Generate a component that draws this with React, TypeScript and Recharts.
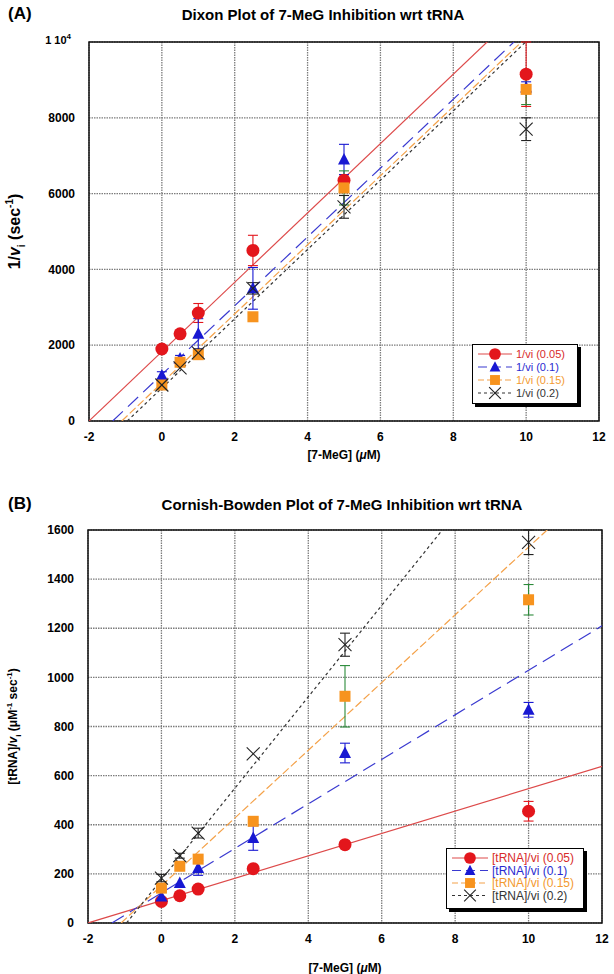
import React from 'react';
import {
  ComposedChart,
  Line,
  Scatter,
  XAxis,
  YAxis,
  CartesianGrid,
  ErrorBar,
  ReferenceArea,
} from 'recharts';

// ── shared x values ([7-MeG] in µM) ──
const conc = [0, 0.5, 1, 2.5, 5, 10];
const xTicks = [-2, 0, 2, 4, 6, 8, 10, 12];

// ── (A) Dixon plot: 1/vi ──
const dixon005 = [1900, 2300, 2850, 4500, 6350, 9150];
const dixon005Err = [0, 0, 250, 400, 150, 850];
const dixon01 = [1200, 1650, 2300, 3500, 6900, 8800];
const dixon01Err = [100, 80, 400, 550, 400, 150];
const dixon015 = [950, 1550, 1750, 2750, 6150, 8750];
const dixon015Err = [0, 0, 0, 0, 450, 400];
const dixon02 = [950, 1400, 1800, 3500, 5650, 7700];
const dixon02Err = [0, 0, 100, 150, 300, 300];
// fitted lines: start (x at y=0) and value at x=12
const dixonFitX0 = [-2, -1.35, -1.1, -0.95];
const dixonFitEnd = [12810, 12120, 11940, 11840];
const dixonYTicks = [0, 2000, 4000, 6000, 8000, 10000];

// ── (B) Cornish-Bowden plot: [tRNA]/vi ──
const cb005 = [88, 111, 138, 221, 319, 455];
const cb005Err = [0, 0, 0, 0, 0, 40];
const cb01 = [108, 163, 224, 346, 692, 868];
const cb01Err = [0, 0, 30, 50, 40, 30];
const cb015 = [142, 231, 260, 414, 923, 1316];
const cb015Err = [0, 0, 0, 0, 125, 62];
const cb02 = [183, 274, 366, 689, 1133, 1550];
const cb02Err = [15, 10, 20, 0, 47, 50];
const cbFitX0 = [-2, -1.35, -1.1, -0.95];
const cbFitEnd = [638, 1210, 1806, 2409];
const cbYTicks = [0, 200, 400, 600, 800, 1000, 1200, 1400, 1600];

const FONT = '"Liberation Sans", Arial, Helvetica, sans-serif';

const RED = '#e3161c';
const BLUE = '#1818d2';
const ORANGE = '#f7931e';
const BLACK = '#222222';
const GREEN = '#2b8a3a';

const series = [
  { key: 'r', color: RED, line: '#dd4a4a', dash: undefined, errColor: RED, text: '#d82a2a', label: '(0.05)' },
  { key: 'b', color: BLUE, line: '#3a3ad0', dash: '14 7', errColor: BLUE, text: '#2a2ad0', label: '(0.1)' },
  { key: 'o', color: ORANGE, line: '#f4a24a', dash: '8 3', errColor: GREEN, text: '#f39a30', label: '(0.15)' },
  { key: 'k', color: BLACK, line: '#333333', dash: '3 3', errColor: BLACK, text: '#333333', label: '(0.2)' },
];

const toPoints = (vals: number[], errs: number[]) =>
  conc.map((x, i) => ({ x, y: vals[i], err: errs[i] }));

const toFit = (x0: number, yEnd: number) => [
  { x: x0, y: 0 },
  { x: 12, y: yEnd },
];

// ══════════════════════════════════════════════════════════════════
// MARKERS
// ══════════════════════════════════════════════════════════════════

function Marker({ kind, cx, cy, s = 1 }: { kind: string; cx: number; cy: number; s?: number }) {
  if (kind === 'r') return <circle cx={cx} cy={cy} r={6.5 * s} fill={RED} />;
  if (kind === 'b')
    return (
      <polygon
        points={`${cx},${cy - 6.5 * s} ${cx - 6 * s},${cy + 5 * s} ${cx + 6 * s},${cy + 5 * s}`}
        fill={BLUE}
      />
    );
  if (kind === 'o')
    return <rect x={cx - 5.5 * s} y={cy - 5.5 * s} width={11 * s} height={11 * s} fill={ORANGE} />;
  const d = 6.5 * s;
  return (
    <g stroke={BLACK} strokeWidth={1.1}>
      <line x1={cx - d} y1={cy - d} x2={cx + d} y2={cy + d} />
      <line x1={cx - d} y1={cy + d} x2={cx + d} y2={cy - d} />
    </g>
  );
}

const shapeFor = (kind: string) => (p: any) => <Marker kind={kind} cx={p.cx} cy={p.cy} />;

// ══════════════════════════════════════════════════════════════════
// TICKS & LABELS
// ══════════════════════════════════════════════════════════════════

function XTick({ x, y, payload }: any) {
  return (
    <text x={x} y={y} dy="0.71em" textAnchor="middle" fontFamily={FONT} fontWeight="bold" fontSize={12} fill="#000">
      {payload.value}
    </text>
  );
}

function YTick({ x, y, payload }: any) {
  if (payload.value === 10000) {
    return (
      <text x={x - 4} y={y} dy={2} textAnchor="end" fontFamily={FONT} fontWeight="bold" fontSize={11} fill="#000">
        1 10<tspan dy={-5} fontSize={8}>4</tspan>
      </text>
    );
  }
  return (
    <text x={x} y={y} dy="0.35em" textAnchor="end" fontFamily={FONT} fontWeight="bold" fontSize={12} fill="#000">
      {payload.value}
    </text>
  );
}

function XLabel({ viewBox, dy }: any) {
  const cx = viewBox.x + viewBox.width / 2;
  return (
    <text x={cx} y={viewBox.y + dy} textAnchor="middle" fontFamily={FONT} fontWeight="bold" fontSize={12} fill="#000">
      [7-MeG] (<tspan fontStyle="italic">μ</tspan>M)
    </text>
  );
}

function DixonYLabel({ viewBox }: any) {
  const cx = 20;
  const cy = viewBox.y + viewBox.height / 2;
  return (
    <text
      x={cx}
      y={cy}
      textAnchor="middle"
      transform={`rotate(-90 ${cx} ${cy})`}
      fontFamily={FONT}
      fontWeight="bold"
      fontSize={16}
      fill="#000"
    >
      1/<tspan fontStyle="italic">v</tspan>
      <tspan dy={5} fontSize={10}>i</tspan>
      <tspan dy={-5}> (sec</tspan>
      <tspan dy={-7} fontSize={10}>-1</tspan>
      <tspan dy={7}>)</tspan>
    </text>
  );
}

function CbYLabel({ viewBox }: any) {
  const cx = 17;
  const cy = viewBox.y + viewBox.height / 2;
  return (
    <text
      x={cx}
      y={cy}
      textAnchor="middle"
      transform={`rotate(-90 ${cx} ${cy})`}
      fontFamily={FONT}
      fontWeight="bold"
      fontSize={12}
      fill="#000"
    >
      [tRNA]/<tspan fontStyle="italic">v</tspan>
      <tspan dy={4} fontSize={8}>i</tspan>
      <tspan dy={-4}> (μM</tspan>
      <tspan dy={-5} fontSize={8}>-1</tspan>
      <tspan dy={5}> sec</tspan>
      <tspan dy={-5} fontSize={8}>-1</tspan>
      <tspan dy={5}>)</tspan>
    </text>
  );
}

// ══════════════════════════════════════════════════════════════════
// LEGEND
// ══════════════════════════════════════════════════════════════════

function LegendBox({
  left, top, width, height, prefix, rowH, fontSize, lineW,
}: {
  left: number; top: number; width: number; height: number; prefix: string; rowH: number; fontSize: number; lineW: number;
}) {
  return (
    <div
      style={{
        position: 'absolute',
        left,
        top,
        width,
        height,
        background: '#fff',
        border: '1px solid #000',
        boxShadow: '3px 3px 0 #000',
        boxSizing: 'border-box',
      }}
    >
      <svg width={width - 2} height={height - 2} style={{ display: 'block' }}>
        {series.map((s, i) => {
          const cy = 9 + i * rowH;
          return (
            <g key={s.key}>
              <line
                x1={5}
                y1={cy}
                x2={5 + lineW}
                y2={cy}
                stroke={s.line}
                strokeWidth={1.2}
                strokeDasharray={s.dash ? (s.key === 'k' ? '3 3' : s.key === 'b' ? '9 5' : '6 3') : undefined}
              />
              <Marker kind={s.key} cx={5 + lineW / 2} cy={cy} s={0.9} />
              <text
                x={lineW + 9}
                y={cy}
                dy="0.35em"
                fontFamily={FONT}
                fontSize={fontSize}
                fill={s.text}
              >
                {prefix} {s.label}
              </text>
            </g>
          );
        })}
      </svg>
    </div>
  );
}

// ══════════════════════════════════════════════════════════════════
// PANEL
// ══════════════════════════════════════════════════════════════════

function Panel({
  height, margin, yMax, yTicks, sets, fits, yLabel, xLabelDy, yTick,
}: any) {
  return (
    <ComposedChart width={614} height={height} margin={margin}>
      <CartesianGrid stroke="#7c7c7c" strokeDasharray="1.5 1" strokeWidth={1.3} />
      <XAxis
        type="number"
        dataKey="x"
        domain={[-2, 12]}
        ticks={xTicks}
        allowDataOverflow
        axisLine={false}
        tickLine={false}
        tickSize={6}
        tickMargin={5}
        height={30}
        tick={<XTick />}
        label={<XLabel dy={xLabelDy} />}
      />
      <YAxis
        type="number"
        domain={[0, yMax]}
        ticks={yTicks}
        allowDataOverflow
        axisLine={false}
        tickLine={false}
        tickSize={6}
        tickMargin={8}
        width={60}
        tick={yTick}
        label={yLabel}
      />
      <ReferenceArea x1={-2} x2={12} y1={0} y2={yMax} fill="none" stroke="#111" strokeWidth={1.5} fillOpacity={0} />
      {series.map((s, i) => (
        <Line
          key={'fit' + s.key}
          data={fits[i]}
          dataKey="y"
          type="linear"
          stroke={s.line}
          strokeWidth={1.2}
          strokeDasharray={s.dash}
          dot={false}
          activeDot={false}
          isAnimationActive={false}
        />
      ))}
      {series.map((s, i) => (
        <Scatter
          key={'pts' + s.key}
          data={sets[i]}
          dataKey="y"
          shape={shapeFor(s.key)}
          isAnimationActive={false}
        >
          <ErrorBar dataKey="err" direction="y" width={5} stroke={s.errColor} strokeWidth={1.1} />
        </Scatter>
      ))}
    </ComposedChart>
  );
}

export default function App() {
  const dixonSets = [
    toPoints(dixon005, dixon005Err),
    toPoints(dixon01, dixon01Err),
    toPoints(dixon015, dixon015Err),
    toPoints(dixon02, dixon02Err),
  ];
  const dixonFits = dixonFitX0.map((x0, i) => toFit(x0, dixonFitEnd[i]));
  const cbSets = [
    toPoints(cb005, cb005Err),
    toPoints(cb01, cb01Err),
    toPoints(cb015, cb015Err),
    toPoints(cb02, cb02Err),
  ];
  const cbFits = cbFitX0.map((x0, i) => toFit(x0, cbFitEnd[i]));

  const titleStyle: React.CSSProperties = {
    position: 'absolute',
    fontFamily: FONT,
    fontWeight: 'bold',
    fontSize: 15,
    whiteSpace: 'nowrap',
    transform: 'translateX(-50%)',
  };
  const letterStyle: React.CSSProperties = {
    position: 'absolute',
    left: 8,
    fontFamily: FONT,
    fontWeight: 'bold',
    fontSize: 17,
  };

  return (
    <div style={{ position: 'absolute', left: 0, top: 0, width: 614, height: 974, background: '#fff' }}>
      <div style={{ ...letterStyle, top: 4 }}>(A)</div>
      <div style={{ ...titleStyle, left: 323, top: 6 }}>Dixon Plot of 7-MeG Inhibition wrt tRNA</div>
      <div style={{ position: 'absolute', left: 0, top: 0 }}>
        <Panel
          height={470}
          margin={{ top: 42, right: 15, bottom: 19, left: 29 }}
          yMax={10000}
          yTicks={dixonYTicks}
          sets={dixonSets}
          fits={dixonFits}
          yLabel={<DixonYLabel />}
          xLabelDy={38}
          yTick={<YTick />}
        />
      </div>
      <LegendBox left={472} top={344} width={106} height={60} prefix="1/vi" rowH={13} fontSize={11} lineW={34} />

      <div style={{ ...letterStyle, top: 494 }}>(B)</div>
      <div style={{ ...titleStyle, left: 342, top: 496 }}>Cornish-Bowden Plot of 7-MeG Inhibition wrt tRNA</div>
      <div style={{ position: 'absolute', left: 0, top: 470 }}>
        <Panel
          height={504}
          margin={{ top: 60, right: 12, bottom: 21, left: 28 }}
          yMax={1600}
          yTicks={cbYTicks}
          sets={cbSets}
          fits={cbFits}
          yLabel={<CbYLabel />}
          xLabelDy={49}
          yTick={<YTick />}
        />
      </div>
      <LegendBox left={446} top={848} width={138} height={61} prefix="[tRNA]/vi" rowH={12.5} fontSize={12} lineW={36} />
    </div>
  );
}
